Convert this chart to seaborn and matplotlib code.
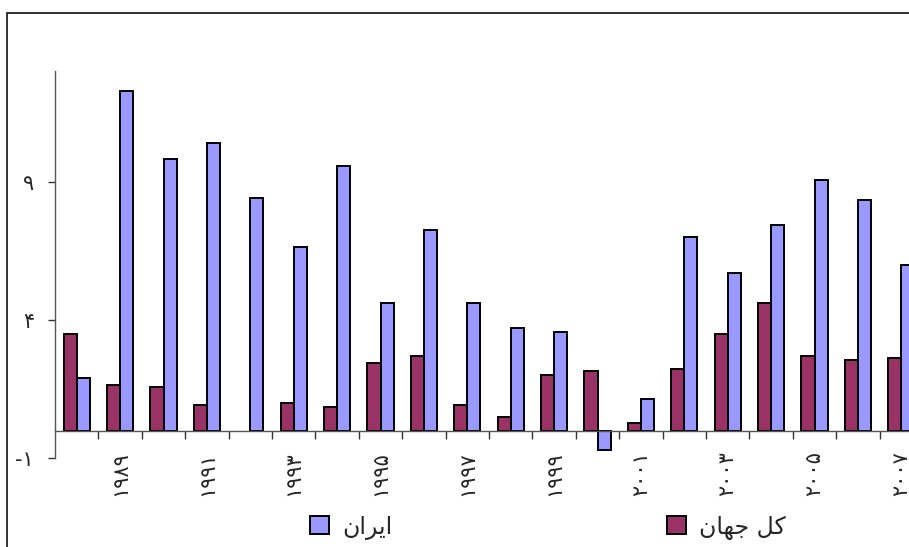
import numpy as np
import pandas as pd
import matplotlib
matplotlib.use("Agg")
import matplotlib.pyplot as plt
from matplotlib.patches import Rectangle
from matplotlib.ticker import FixedLocator
import seaborn as sns

# ---------------- data ----------------
years = list(range(1988, 2008))
world = [3.48, 1.64, 1.57, 0.92, np.nan, 1.00, 0.86, 2.43, 2.70, 0.93,
         0.50, 2.00, 2.16, 0.28, 2.22, 3.50, 4.63, 2.71, 2.56, 2.63]
iran = [1.91, 12.26, 9.83, 10.41, 8.41, 6.63, 9.58, 4.63, 7.27, 4.63,
        3.72, 3.57, -0.71, 1.16, 6.99, 5.70, 7.43, 9.06, 8.35, 5.99]
series_world = "کل جهان"
series_iran = "ایران"
ytick_values = [-1, 4, 9]
color_world = "#993366"
color_iran = "#9999FF"

# ---------------- helpers ----------------
PERSIAN_DIGITS = str.maketrans("0123456789-", "۰۱۲۳۴۵۶۷۸۹-")

FORMS = {
    'ا': ('\uFE8D', '\uFE8E', None, None),
    'ر': ('\uFEAD', '\uFEAE', None, None),
    'ن': ('\uFEE5', '\uFEE6', '\uFEE7', '\uFEE8'),
    'ی': ('\uFBFC', '\uFBFD', '\uFBFE', '\uFBFF'),
    'ک': ('\uFB8E', '\uFB8F', '\uFB90', '\uFB91'),
    'ل': ('\uFEDD', '\uFEDE', '\uFEDF', '\uFEE0'),
    'ج': ('\uFE9D', '\uFE9E', '\uFE9F', '\uFEA0'),
    'ه': ('\uFEE9', '\uFEEA', '\uFEEB', '\uFEEC'),
}


def shape(s):
    out = []
    for i, c in enumerate(s):
        if c not in FORMS:
            out.append(c)
            continue
        prev = s[i - 1] if i > 0 else ''
        nxt = s[i + 1] if i + 1 < len(s) else ''
        jp = prev in FORMS and FORMS[prev][2] is not None
        jn = nxt in FORMS and FORMS[c][2] is not None
        iso, fin, ini, med = FORMS[c]
        if jp and jn:
            out.append(med)
        elif jp:
            out.append(fin)
        elif jn:
            out.append(ini)
        else:
            out.append(iso)
    return ''.join(reversed(out))


df = pd.DataFrame({
    "year": years * 2,
    "value": world + iran,
    "series": [series_world] * len(years) + [series_iran] * len(years),
})

# ---------------- plot ----------------
sns.set_style("white")
plt.rcParams["font.family"] = ["DejaVu Sans"]

fig = plt.figure(figsize=(9.09, 5.47), dpi=100)
ax = fig.add_axes([55 / 909, 1 - 458.3 / 547, 868 / 909, (458.3 - 71) / 547])

sns.barplot(data=df, x="year", y="value", hue="series",
            hue_order=[series_world, series_iran],
            palette=[color_world, color_iran], saturation=1, width=0.6,
            edgecolor="black", linewidth=1.4, errorbar=None, ax=ax)

ax.set_xlim(-0.5, len(years) - 0.5)
ax.set_ylim(-1, 13)
ax.set_xlabel("")
ax.set_ylabel("")

# axes styling
for s in ["top", "right"]:
    ax.spines[s].set_visible(False)
ax.spines["left"].set_color("#555555")
ax.spines["left"].set_linewidth(1.0)
ax.spines["bottom"].set_position(("data", 0))
ax.spines["bottom"].set_color("#555555")
ax.spines["bottom"].set_linewidth(1.0)

ax.set_yticks(ytick_values)
ax.set_yticklabels([str(v).translate(PERSIAN_DIGITS) for v in ytick_values])
ax.tick_params(axis="y", direction="out", length=5, width=1.0,
               color="#333333", pad=10, labelsize=15, left=True)

xt_labels = [str(y).translate(PERSIAN_DIGITS) if y % 2 == 1 else "" for y in years]
ax.set_xticks(range(len(years)))
ax.set_xticklabels(xt_labels, rotation=90, va="top", ha="center")
ax.tick_params(axis="x", which="major", length=0, pad=15, labelsize=15)
ax.xaxis.set_minor_locator(FixedLocator(np.arange(0.5, len(years) - 0.5, 1)))
ax.tick_params(axis="x", which="minor", direction="out", length=6,
               width=1.0, color="#333333", bottom=True)
ax.grid(False)

# legend: two entries placed like the original
handles, labels = ax.get_legend_handles_labels()
ax.get_legend().remove()
hmap = dict(zip(labels, handles))
for lab, xpix in [(series_iran, 310), (series_world, 667)]:
    leg = fig.legend([hmap[lab]], [shape(lab)], loc="center left",
                     bbox_to_anchor=(xpix / 909, 1 - 527 / 547),
                     frameon=False, borderpad=0, borderaxespad=0,
                     fontsize=17, handlelength=0.8, handleheight=0.8,
                     handletextpad=0.55)

# outer chart-area frame (cropped on right/bottom)
fig.patches.append(Rectangle((7 / 909, -0.2), 1.2, 1.2 - 13 / 547,
                             transform=fig.transFigure, fill=False,
                             edgecolor="#111111", linewidth=1.2))

fig.savefig("out.png", dpi=100)
